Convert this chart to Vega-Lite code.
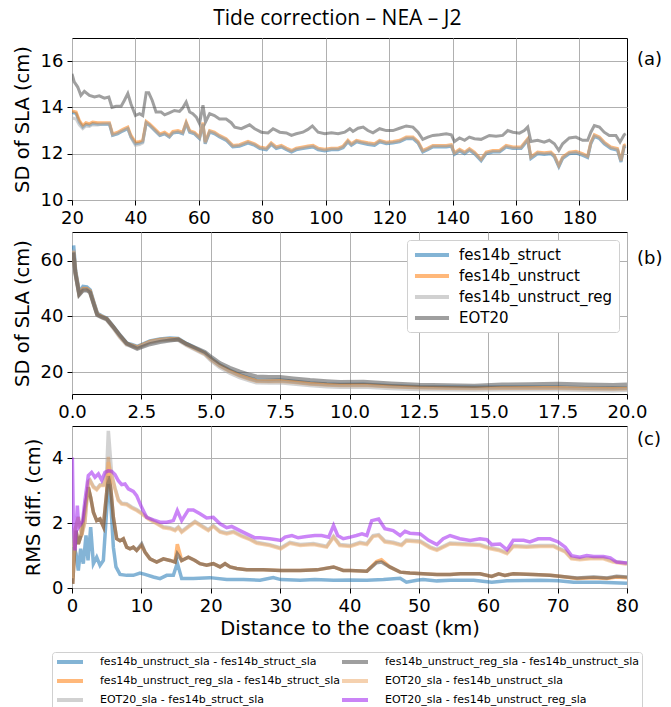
{
"$schema":"https://vega.github.io/schema/vega-lite/v6.json",
"padding":{"left":11,"top":7,"right":5,"bottom":0},
"title":{"text":"Tide correction – NEA – J2","font":"Open Sans","fontSize":21,"fontWeight":"normal","color":"#000","anchor":"middle","offset":9},
"bounds":"flush",
"spacing":32,
"config":{
 "view":{"stroke":"#000","strokeWidth":1},
 "axis":{"labelFont":"DejaVu Sans","labelFontSize":18,"labelColor":"#000","tickColor":"#000","tickSize":5,"labelPadding":4,"domain":false,"gridColor":"#b0b0b0","gridWidth":1,"titleFont":"DejaVu Sans","titleFontSize":19.5,"titleFontWeight":"normal","titleColor":"#000","labelFlush":false}
},
"resolve":{"scale":{"color":"independent"},"legend":{"color":"independent"}},
"datasets":{
"A":[
{"s":"fes14b_struct","x":20,"y":13.78},{"s":"fes14b_struct","x":21.3,"y":13.73},{"s":"fes14b_struct","x":22.3,"y":13.37},{"s":"fes14b_struct","x":23.4,"y":13.15},{"s":"fes14b_struct","x":24.4,"y":13.27},{"s":"fes14b_struct","x":25.5,"y":13.23},{"s":"fes14b_struct","x":26.5,"y":13.3},{"s":"fes14b_struct","x":28.1,"y":13.27},{"s":"fes14b_struct","x":29.7,"y":13.27},{"s":"fes14b_struct","x":31.8,"y":13.27},{"s":"fes14b_struct","x":32.8,"y":12.79},{"s":"fes14b_struct","x":34.4,"y":12.86},{"s":"fes14b_struct","x":36,"y":12.98},{"s":"fes14b_struct","x":37.6,"y":13.08},{"s":"fes14b_struct","x":38.6,"y":12.72},{"s":"fes14b_struct","x":40,"y":12.43},{"s":"fes14b_struct","x":41.3,"y":12.46},{"s":"fes14b_struct","x":42.3,"y":12.51},{"s":"fes14b_struct","x":43.4,"y":13.33},{"s":"fes14b_struct","x":44.4,"y":13.23},{"s":"fes14b_struct","x":46.1,"y":13.01},{"s":"fes14b_struct","x":47.7,"y":12.79},{"s":"fes14b_struct","x":49.2,"y":12.86},{"s":"fes14b_struct","x":50.7,"y":12.72},{"s":"fes14b_struct","x":51.8,"y":12.89},{"s":"fes14b_struct","x":53.4,"y":12.93},{"s":"fes14b_struct","x":54.9,"y":12.86},{"s":"fes14b_struct","x":56,"y":13.3},{"s":"fes14b_struct","x":57.1,"y":12.93},{"s":"fes14b_struct","x":58.6,"y":12.86},{"s":"fes14b_struct","x":60.2,"y":12.65},{"s":"fes14b_struct","x":61.3,"y":13.27},{"s":"fes14b_struct","x":62,"y":12.43},{"s":"fes14b_struct","x":63.4,"y":12.93},{"s":"fes14b_struct","x":64.9,"y":12.86},{"s":"fes14b_struct","x":66.5,"y":12.72},{"s":"fes14b_struct","x":68.6,"y":12.58},{"s":"fes14b_struct","x":70.7,"y":12.29},{"s":"fes14b_struct","x":72.8,"y":12.32},{"s":"fes14b_struct","x":75.5,"y":12.46},{"s":"fes14b_struct","x":77.6,"y":12.36},{"s":"fes14b_struct","x":79.2,"y":12.22},{"s":"fes14b_struct","x":81.3,"y":12.17},{"s":"fes14b_struct","x":82.8,"y":12.4},{"s":"fes14b_struct","x":84.4,"y":12.22},{"s":"fes14b_struct","x":86,"y":12.29},{"s":"fes14b_struct","x":87.6,"y":12.17},{"s":"fes14b_struct","x":89.2,"y":12.07},{"s":"fes14b_struct","x":90.7,"y":12.17},{"s":"fes14b_struct","x":92.8,"y":12.22},{"s":"fes14b_struct","x":94.4,"y":12.26},{"s":"fes14b_struct","x":96,"y":12.29},{"s":"fes14b_struct","x":97.6,"y":12.17},{"s":"fes14b_struct","x":99.7,"y":12.12},{"s":"fes14b_struct","x":101.8,"y":12.17},{"s":"fes14b_struct","x":103.9,"y":12.17},{"s":"fes14b_struct","x":105.5,"y":12.26},{"s":"fes14b_struct","x":107,"y":12.51},{"s":"fes14b_struct","x":108.1,"y":12.36},{"s":"fes14b_struct","x":109.7,"y":12.51},{"s":"fes14b_struct","x":111.2,"y":12.46},{"s":"fes14b_struct","x":113.3,"y":12.4},{"s":"fes14b_struct","x":115.4,"y":12.36},{"s":"fes14b_struct","x":117,"y":12.51},{"s":"fes14b_struct","x":119.1,"y":12.43},{"s":"fes14b_struct","x":121.2,"y":12.46},{"s":"fes14b_struct","x":123.3,"y":12.51},{"s":"fes14b_struct","x":125.4,"y":12.65},{"s":"fes14b_struct","x":127.5,"y":12.65},{"s":"fes14b_struct","x":129.1,"y":12.46},{"s":"fes14b_struct","x":130.6,"y":12.07},{"s":"fes14b_struct","x":132.2,"y":12.17},{"s":"fes14b_struct","x":133.8,"y":12.29},{"s":"fes14b_struct","x":135.9,"y":12.29},{"s":"fes14b_struct","x":138,"y":12.29},{"s":"fes14b_struct","x":139.6,"y":12.32},{"s":"fes14b_struct","x":140.6,"y":11.97},{"s":"fes14b_struct","x":142.2,"y":12.12},{"s":"fes14b_struct","x":143.8,"y":12.0},{"s":"fes14b_struct","x":145.3,"y":12.15},{"s":"fes14b_struct","x":146.9,"y":12.0},{"s":"fes14b_struct","x":149,"y":11.69},{"s":"fes14b_struct","x":150.6,"y":12.0},{"s":"fes14b_struct","x":152.7,"y":12.07},{"s":"fes14b_struct","x":154.8,"y":12.07},{"s":"fes14b_struct","x":156.9,"y":12.29},{"s":"fes14b_struct","x":159,"y":12.22},{"s":"fes14b_struct","x":161.6,"y":12.22},{"s":"fes14b_struct","x":163.7,"y":12.58},{"s":"fes14b_struct","x":164.7,"y":11.79},{"s":"fes14b_struct","x":166.8,"y":12.0},{"s":"fes14b_struct","x":168.9,"y":11.97},{"s":"fes14b_struct","x":171,"y":12.0},{"s":"fes14b_struct","x":172.1,"y":11.86},{"s":"fes14b_struct","x":173.5,"y":11.43},{"s":"fes14b_struct","x":174.7,"y":11.79},{"s":"fes14b_struct","x":176.8,"y":12.0},{"s":"fes14b_struct","x":178.9,"y":12.03},{"s":"fes14b_struct","x":181,"y":11.93},{"s":"fes14b_struct","x":182.6,"y":11.83},{"s":"fes14b_struct","x":183.6,"y":12.43},{"s":"fes14b_struct","x":184.7,"y":12.75},{"s":"fes14b_struct","x":186.3,"y":12.65},{"s":"fes14b_struct","x":187.8,"y":12.43},{"s":"fes14b_struct","x":189.9,"y":12.22},{"s":"fes14b_struct","x":192,"y":12.15},{"s":"fes14b_struct","x":193.1,"y":11.64},{"s":"fes14b_struct","x":194.1,"y":12.29},{"s":"fes14b_struct","x":194.6,"y":12.32},
{"s":"fes14b_unstruct","x":20,"y":13.85},{"s":"fes14b_unstruct","x":21.3,"y":13.8},{"s":"fes14b_unstruct","x":22.3,"y":13.44},{"s":"fes14b_unstruct","x":23.4,"y":13.22},{"s":"fes14b_unstruct","x":24.4,"y":13.34},{"s":"fes14b_unstruct","x":25.5,"y":13.3},{"s":"fes14b_unstruct","x":26.5,"y":13.37},{"s":"fes14b_unstruct","x":28.1,"y":13.34},{"s":"fes14b_unstruct","x":29.7,"y":13.34},{"s":"fes14b_unstruct","x":31.8,"y":13.34},{"s":"fes14b_unstruct","x":32.8,"y":12.86},{"s":"fes14b_unstruct","x":34.4,"y":12.93},{"s":"fes14b_unstruct","x":36,"y":13.05},{"s":"fes14b_unstruct","x":37.6,"y":13.15},{"s":"fes14b_unstruct","x":38.6,"y":12.79},{"s":"fes14b_unstruct","x":40,"y":12.5},{"s":"fes14b_unstruct","x":41.3,"y":12.53},{"s":"fes14b_unstruct","x":42.3,"y":12.58},{"s":"fes14b_unstruct","x":43.4,"y":13.4},{"s":"fes14b_unstruct","x":44.4,"y":13.3},{"s":"fes14b_unstruct","x":46.1,"y":13.08},{"s":"fes14b_unstruct","x":47.7,"y":12.86},{"s":"fes14b_unstruct","x":49.2,"y":12.93},{"s":"fes14b_unstruct","x":50.7,"y":12.79},{"s":"fes14b_unstruct","x":51.8,"y":12.96},{"s":"fes14b_unstruct","x":53.4,"y":13.0},{"s":"fes14b_unstruct","x":54.9,"y":12.93},{"s":"fes14b_unstruct","x":56,"y":13.37},{"s":"fes14b_unstruct","x":57.1,"y":13.0},{"s":"fes14b_unstruct","x":58.6,"y":12.93},{"s":"fes14b_unstruct","x":60.2,"y":12.72},{"s":"fes14b_unstruct","x":61.3,"y":13.34},{"s":"fes14b_unstruct","x":62,"y":12.5},{"s":"fes14b_unstruct","x":63.4,"y":13.0},{"s":"fes14b_unstruct","x":64.9,"y":12.93},{"s":"fes14b_unstruct","x":66.5,"y":12.79},{"s":"fes14b_unstruct","x":68.6,"y":12.65},{"s":"fes14b_unstruct","x":70.7,"y":12.36},{"s":"fes14b_unstruct","x":72.8,"y":12.39},{"s":"fes14b_unstruct","x":75.5,"y":12.53},{"s":"fes14b_unstruct","x":77.6,"y":12.43},{"s":"fes14b_unstruct","x":79.2,"y":12.29},{"s":"fes14b_unstruct","x":81.3,"y":12.24},{"s":"fes14b_unstruct","x":82.8,"y":12.47},{"s":"fes14b_unstruct","x":84.4,"y":12.29},{"s":"fes14b_unstruct","x":86,"y":12.36},{"s":"fes14b_unstruct","x":87.6,"y":12.24},{"s":"fes14b_unstruct","x":89.2,"y":12.14},{"s":"fes14b_unstruct","x":90.7,"y":12.24},{"s":"fes14b_unstruct","x":92.8,"y":12.29},{"s":"fes14b_unstruct","x":94.4,"y":12.33},{"s":"fes14b_unstruct","x":96,"y":12.36},{"s":"fes14b_unstruct","x":97.6,"y":12.24},{"s":"fes14b_unstruct","x":99.7,"y":12.19},{"s":"fes14b_unstruct","x":101.8,"y":12.24},{"s":"fes14b_unstruct","x":103.9,"y":12.24},{"s":"fes14b_unstruct","x":105.5,"y":12.33},{"s":"fes14b_unstruct","x":107,"y":12.58},{"s":"fes14b_unstruct","x":108.1,"y":12.43},{"s":"fes14b_unstruct","x":109.7,"y":12.58},{"s":"fes14b_unstruct","x":111.2,"y":12.53},{"s":"fes14b_unstruct","x":113.3,"y":12.47},{"s":"fes14b_unstruct","x":115.4,"y":12.43},{"s":"fes14b_unstruct","x":117,"y":12.58},{"s":"fes14b_unstruct","x":119.1,"y":12.5},{"s":"fes14b_unstruct","x":121.2,"y":12.53},{"s":"fes14b_unstruct","x":123.3,"y":12.58},{"s":"fes14b_unstruct","x":125.4,"y":12.72},{"s":"fes14b_unstruct","x":127.5,"y":12.72},{"s":"fes14b_unstruct","x":129.1,"y":12.53},{"s":"fes14b_unstruct","x":130.6,"y":12.14},{"s":"fes14b_unstruct","x":132.2,"y":12.24},{"s":"fes14b_unstruct","x":133.8,"y":12.36},{"s":"fes14b_unstruct","x":135.9,"y":12.36},{"s":"fes14b_unstruct","x":138,"y":12.36},{"s":"fes14b_unstruct","x":139.6,"y":12.39},{"s":"fes14b_unstruct","x":140.6,"y":12.04},{"s":"fes14b_unstruct","x":142.2,"y":12.19},{"s":"fes14b_unstruct","x":143.8,"y":12.07},{"s":"fes14b_unstruct","x":145.3,"y":12.22},{"s":"fes14b_unstruct","x":146.9,"y":12.07},{"s":"fes14b_unstruct","x":149,"y":11.76},{"s":"fes14b_unstruct","x":150.6,"y":12.07},{"s":"fes14b_unstruct","x":152.7,"y":12.14},{"s":"fes14b_unstruct","x":154.8,"y":12.14},{"s":"fes14b_unstruct","x":156.9,"y":12.36},{"s":"fes14b_unstruct","x":159,"y":12.29},{"s":"fes14b_unstruct","x":161.6,"y":12.29},{"s":"fes14b_unstruct","x":163.7,"y":12.65},{"s":"fes14b_unstruct","x":164.7,"y":11.86},{"s":"fes14b_unstruct","x":166.8,"y":12.07},{"s":"fes14b_unstruct","x":168.9,"y":12.04},{"s":"fes14b_unstruct","x":171,"y":12.07},{"s":"fes14b_unstruct","x":172.1,"y":11.93},{"s":"fes14b_unstruct","x":173.5,"y":11.5},{"s":"fes14b_unstruct","x":174.7,"y":11.86},{"s":"fes14b_unstruct","x":176.8,"y":12.07},{"s":"fes14b_unstruct","x":178.9,"y":12.1},{"s":"fes14b_unstruct","x":181,"y":12.0},{"s":"fes14b_unstruct","x":182.6,"y":11.9},{"s":"fes14b_unstruct","x":183.6,"y":12.5},{"s":"fes14b_unstruct","x":184.7,"y":12.82},{"s":"fes14b_unstruct","x":186.3,"y":12.72},{"s":"fes14b_unstruct","x":187.8,"y":12.5},{"s":"fes14b_unstruct","x":189.9,"y":12.29},{"s":"fes14b_unstruct","x":192,"y":12.22},{"s":"fes14b_unstruct","x":193.1,"y":11.71},{"s":"fes14b_unstruct","x":194.1,"y":12.36},{"s":"fes14b_unstruct","x":194.6,"y":12.39},
{"s":"fes14b_unstruct_reg","x":20,"y":13.55},{"s":"fes14b_unstruct_reg","x":21.3,"y":13.5},{"s":"fes14b_unstruct_reg","x":22.3,"y":13.25},{"s":"fes14b_unstruct_reg","x":23.4,"y":13.08},{"s":"fes14b_unstruct_reg","x":24.4,"y":13.2},{"s":"fes14b_unstruct_reg","x":25.5,"y":13.18},{"s":"fes14b_unstruct_reg","x":26.5,"y":13.25},{"s":"fes14b_unstruct_reg","x":28.1,"y":13.24},{"s":"fes14b_unstruct_reg","x":29.7,"y":13.28},{"s":"fes14b_unstruct_reg","x":31.8,"y":13.3},{"s":"fes14b_unstruct_reg","x":32.8,"y":12.8},{"s":"fes14b_unstruct_reg","x":34.4,"y":12.88},{"s":"fes14b_unstruct_reg","x":36,"y":13.0},{"s":"fes14b_unstruct_reg","x":37.6,"y":13.1},{"s":"fes14b_unstruct_reg","x":38.6,"y":12.7},{"s":"fes14b_unstruct_reg","x":40,"y":12.36},{"s":"fes14b_unstruct_reg","x":41.3,"y":12.4},{"s":"fes14b_unstruct_reg","x":42.3,"y":12.46},{"s":"fes14b_unstruct_reg","x":43.4,"y":13.34},{"s":"fes14b_unstruct_reg","x":44.4,"y":13.24},{"s":"fes14b_unstruct_reg","x":46.1,"y":13.0},{"s":"fes14b_unstruct_reg","x":47.7,"y":12.8},{"s":"fes14b_unstruct_reg","x":49.2,"y":12.86},{"s":"fes14b_unstruct_reg","x":50.7,"y":12.72},{"s":"fes14b_unstruct_reg","x":51.8,"y":12.9},{"s":"fes14b_unstruct_reg","x":53.4,"y":12.95},{"s":"fes14b_unstruct_reg","x":54.9,"y":12.88},{"s":"fes14b_unstruct_reg","x":56,"y":13.32},{"s":"fes14b_unstruct_reg","x":57.1,"y":12.95},{"s":"fes14b_unstruct_reg","x":58.6,"y":12.88},{"s":"fes14b_unstruct_reg","x":60.2,"y":12.66},{"s":"fes14b_unstruct_reg","x":61.3,"y":13.3},{"s":"fes14b_unstruct_reg","x":62,"y":12.44},{"s":"fes14b_unstruct_reg","x":63.4,"y":12.96},{"s":"fes14b_unstruct_reg","x":64.9,"y":12.89},{"s":"fes14b_unstruct_reg","x":66.5,"y":12.75},{"s":"fes14b_unstruct_reg","x":68.6,"y":12.61},{"s":"fes14b_unstruct_reg","x":70.7,"y":12.32},{"s":"fes14b_unstruct_reg","x":72.8,"y":12.35},{"s":"fes14b_unstruct_reg","x":75.5,"y":12.49},{"s":"fes14b_unstruct_reg","x":77.6,"y":12.39},{"s":"fes14b_unstruct_reg","x":79.2,"y":12.25},{"s":"fes14b_unstruct_reg","x":81.3,"y":12.2},{"s":"fes14b_unstruct_reg","x":82.8,"y":12.43},{"s":"fes14b_unstruct_reg","x":84.4,"y":12.25},{"s":"fes14b_unstruct_reg","x":86,"y":12.32},{"s":"fes14b_unstruct_reg","x":87.6,"y":12.2},{"s":"fes14b_unstruct_reg","x":89.2,"y":12.1},{"s":"fes14b_unstruct_reg","x":90.7,"y":12.2},{"s":"fes14b_unstruct_reg","x":92.8,"y":12.25},{"s":"fes14b_unstruct_reg","x":94.4,"y":12.29},{"s":"fes14b_unstruct_reg","x":96,"y":12.32},{"s":"fes14b_unstruct_reg","x":97.6,"y":12.2},{"s":"fes14b_unstruct_reg","x":99.7,"y":12.15},{"s":"fes14b_unstruct_reg","x":101.8,"y":12.2},{"s":"fes14b_unstruct_reg","x":103.9,"y":12.2},{"s":"fes14b_unstruct_reg","x":105.5,"y":12.29},{"s":"fes14b_unstruct_reg","x":107,"y":12.54},{"s":"fes14b_unstruct_reg","x":108.1,"y":12.39},{"s":"fes14b_unstruct_reg","x":109.7,"y":12.54},{"s":"fes14b_unstruct_reg","x":111.2,"y":12.49},{"s":"fes14b_unstruct_reg","x":113.3,"y":12.43},{"s":"fes14b_unstruct_reg","x":115.4,"y":12.39},{"s":"fes14b_unstruct_reg","x":117,"y":12.54},{"s":"fes14b_unstruct_reg","x":119.1,"y":12.46},{"s":"fes14b_unstruct_reg","x":121.2,"y":12.49},{"s":"fes14b_unstruct_reg","x":123.3,"y":12.54},{"s":"fes14b_unstruct_reg","x":125.4,"y":12.68},{"s":"fes14b_unstruct_reg","x":127.5,"y":12.68},{"s":"fes14b_unstruct_reg","x":129.1,"y":12.49},{"s":"fes14b_unstruct_reg","x":130.6,"y":12.1},{"s":"fes14b_unstruct_reg","x":132.2,"y":12.2},{"s":"fes14b_unstruct_reg","x":133.8,"y":12.32},{"s":"fes14b_unstruct_reg","x":135.9,"y":12.32},{"s":"fes14b_unstruct_reg","x":138,"y":12.32},{"s":"fes14b_unstruct_reg","x":139.6,"y":12.35},{"s":"fes14b_unstruct_reg","x":140.6,"y":12.0},{"s":"fes14b_unstruct_reg","x":142.2,"y":12.15},{"s":"fes14b_unstruct_reg","x":143.8,"y":12.03},{"s":"fes14b_unstruct_reg","x":145.3,"y":12.18},{"s":"fes14b_unstruct_reg","x":146.9,"y":12.03},{"s":"fes14b_unstruct_reg","x":149,"y":11.72},{"s":"fes14b_unstruct_reg","x":150.6,"y":12.03},{"s":"fes14b_unstruct_reg","x":152.7,"y":12.1},{"s":"fes14b_unstruct_reg","x":154.8,"y":12.1},{"s":"fes14b_unstruct_reg","x":156.9,"y":12.32},{"s":"fes14b_unstruct_reg","x":159,"y":12.25},{"s":"fes14b_unstruct_reg","x":161.6,"y":12.25},{"s":"fes14b_unstruct_reg","x":163.7,"y":12.61},{"s":"fes14b_unstruct_reg","x":164.7,"y":11.82},{"s":"fes14b_unstruct_reg","x":166.8,"y":12.03},{"s":"fes14b_unstruct_reg","x":168.9,"y":12.0},{"s":"fes14b_unstruct_reg","x":171,"y":12.03},{"s":"fes14b_unstruct_reg","x":172.1,"y":11.89},{"s":"fes14b_unstruct_reg","x":173.5,"y":11.46},{"s":"fes14b_unstruct_reg","x":174.7,"y":11.82},{"s":"fes14b_unstruct_reg","x":176.8,"y":12.03},{"s":"fes14b_unstruct_reg","x":178.9,"y":12.06},{"s":"fes14b_unstruct_reg","x":181,"y":11.96},{"s":"fes14b_unstruct_reg","x":182.6,"y":11.86},{"s":"fes14b_unstruct_reg","x":183.6,"y":12.46},{"s":"fes14b_unstruct_reg","x":184.7,"y":12.78},{"s":"fes14b_unstruct_reg","x":186.3,"y":12.68},{"s":"fes14b_unstruct_reg","x":187.8,"y":12.46},{"s":"fes14b_unstruct_reg","x":189.9,"y":12.25},{"s":"fes14b_unstruct_reg","x":192,"y":12.18},{"s":"fes14b_unstruct_reg","x":193.1,"y":11.67},{"s":"fes14b_unstruct_reg","x":194.1,"y":12.32},{"s":"fes14b_unstruct_reg","x":194.6,"y":12.35},
{"s":"EOT20","x":20,"y":15.45},{"s":"EOT20","x":20.7,"y":15.1},{"s":"EOT20","x":21.8,"y":14.88},{"s":"EOT20","x":22.8,"y":14.52},{"s":"EOT20","x":23.9,"y":14.7},{"s":"EOT20","x":25.5,"y":14.52},{"s":"EOT20","x":27.1,"y":14.45},{"s":"EOT20","x":28.6,"y":14.5},{"s":"EOT20","x":30.2,"y":14.4},{"s":"EOT20","x":31.6,"y":14.45},{"s":"EOT20","x":32.6,"y":14.0},{"s":"EOT20","x":33.9,"y":14.05},{"s":"EOT20","x":35.5,"y":14.05},{"s":"EOT20","x":36.5,"y":14.3},{"s":"EOT20","x":37.6,"y":14.6},{"s":"EOT20","x":38.6,"y":14.15},{"s":"EOT20","x":40,"y":13.65},{"s":"EOT20","x":41.3,"y":13.73},{"s":"EOT20","x":42.3,"y":13.65},{"s":"EOT20","x":43.4,"y":14.63},{"s":"EOT20","x":44.2,"y":14.63},{"s":"EOT20","x":45.3,"y":14.3},{"s":"EOT20","x":46.5,"y":13.8},{"s":"EOT20","x":48.1,"y":13.8},{"s":"EOT20","x":49.2,"y":13.68},{"s":"EOT20","x":50.7,"y":13.77},{"s":"EOT20","x":52.3,"y":13.87},{"s":"EOT20","x":53.9,"y":13.83},{"s":"EOT20","x":54.9,"y":13.97},{"s":"EOT20","x":56,"y":14.23},{"s":"EOT20","x":57.1,"y":13.8},{"s":"EOT20","x":58.1,"y":13.73},{"s":"EOT20","x":59.2,"y":13.58},{"s":"EOT20","x":60.2,"y":13.3},{"s":"EOT20","x":61.3,"y":14.09},{"s":"EOT20","x":62.1,"y":13.37},{"s":"EOT20","x":63.4,"y":13.73},{"s":"EOT20","x":64.9,"y":13.65},{"s":"EOT20","x":66.5,"y":13.5},{"s":"EOT20","x":68.6,"y":13.5},{"s":"EOT20","x":70.2,"y":13.34},{"s":"EOT20","x":71.3,"y":13.15},{"s":"EOT20","x":73.4,"y":13.08},{"s":"EOT20","x":76,"y":13.25},{"s":"EOT20","x":77.6,"y":13.08},{"s":"EOT20","x":79.7,"y":12.93},{"s":"EOT20","x":81.8,"y":12.9},{"s":"EOT20","x":83.4,"y":13.08},{"s":"EOT20","x":85.5,"y":12.93},{"s":"EOT20","x":87.6,"y":12.9},{"s":"EOT20","x":89.2,"y":12.79},{"s":"EOT20","x":90.7,"y":12.86},{"s":"EOT20","x":92.8,"y":12.93},{"s":"EOT20","x":94.4,"y":13.05},{"s":"EOT20","x":95.8,"y":13.2},{"s":"EOT20","x":97.6,"y":12.93},{"s":"EOT20","x":99.7,"y":12.86},{"s":"EOT20","x":101.8,"y":12.9},{"s":"EOT20","x":103.9,"y":12.86},{"s":"EOT20","x":106,"y":12.93},{"s":"EOT20","x":107.6,"y":13.08},{"s":"EOT20","x":108.6,"y":12.96},{"s":"EOT20","x":110.2,"y":13.1},{"s":"EOT20","x":111.8,"y":13.15},{"s":"EOT20","x":113.3,"y":13.0},{"s":"EOT20","x":114.9,"y":12.9},{"s":"EOT20","x":117,"y":13.08},{"s":"EOT20","x":119.1,"y":13.0},{"s":"EOT20","x":121.2,"y":13.0},{"s":"EOT20","x":123.3,"y":13.1},{"s":"EOT20","x":125.4,"y":13.2},{"s":"EOT20","x":127.5,"y":13.15},{"s":"EOT20","x":129.1,"y":12.93},{"s":"EOT20","x":130.6,"y":12.62},{"s":"EOT20","x":132.2,"y":12.72},{"s":"EOT20","x":133.8,"y":12.79},{"s":"EOT20","x":135.9,"y":12.82},{"s":"EOT20","x":138,"y":12.86},{"s":"EOT20","x":139.6,"y":12.82},{"s":"EOT20","x":140.6,"y":12.53},{"s":"EOT20","x":142.2,"y":12.68},{"s":"EOT20","x":143.8,"y":12.58},{"s":"EOT20","x":145.3,"y":12.72},{"s":"EOT20","x":146.9,"y":12.65},{"s":"EOT20","x":149,"y":12.62},{"s":"EOT20","x":151.6,"y":12.79},{"s":"EOT20","x":153.7,"y":12.76},{"s":"EOT20","x":155.8,"y":12.79},{"s":"EOT20","x":157.4,"y":13.0},{"s":"EOT20","x":159,"y":12.93},{"s":"EOT20","x":161.1,"y":12.89},{"s":"EOT20","x":162.6,"y":13.0},{"s":"EOT20","x":163.7,"y":13.15},{"s":"EOT20","x":164.7,"y":12.53},{"s":"EOT20","x":166.8,"y":12.58},{"s":"EOT20","x":168.9,"y":12.5},{"s":"EOT20","x":170.5,"y":12.58},{"s":"EOT20","x":172.1,"y":12.43},{"s":"EOT20","x":173.5,"y":12.14},{"s":"EOT20","x":174.7,"y":12.43},{"s":"EOT20","x":176.8,"y":12.68},{"s":"EOT20","x":178.9,"y":12.72},{"s":"EOT20","x":181,"y":12.58},{"s":"EOT20","x":182.6,"y":12.58},{"s":"EOT20","x":183.6,"y":12.93},{"s":"EOT20","x":184.7,"y":13.22},{"s":"EOT20","x":186.3,"y":13.15},{"s":"EOT20","x":187.8,"y":12.93},{"s":"EOT20","x":189.4,"y":12.79},{"s":"EOT20","x":191.5,"y":12.79},{"s":"EOT20","x":192.8,"y":12.5},{"s":"EOT20","x":194.1,"y":12.82},{"s":"EOT20","x":194.6,"y":12.86}
],
"B":[
{"s":"fes14b_struct","x":0.05,"y":65.5},{"s":"fes14b_struct","x":0.12,"y":56.5},{"s":"fes14b_struct","x":0.26,"y":48.4},{"s":"fes14b_struct","x":0.4,"y":50.7},{"s":"fes14b_struct","x":0.53,"y":50.5},{"s":"fes14b_struct","x":0.65,"y":49.4},{"s":"fes14b_struct","x":0.77,"y":45.4},{"s":"fes14b_struct","x":0.91,"y":41.0},{"s":"fes14b_struct","x":1.07,"y":40.1},{"s":"fes14b_struct","x":1.25,"y":39.3},{"s":"fes14b_struct","x":1.49,"y":36.3},{"s":"fes14b_struct","x":1.73,"y":33.0},{"s":"fes14b_struct","x":1.97,"y":30.3},{"s":"fes14b_struct","x":2.15,"y":29.8},{"s":"fes14b_struct","x":2.35,"y":29.1},{"s":"fes14b_struct","x":2.51,"y":29.8},{"s":"fes14b_struct","x":2.81,"y":31.1},{"s":"fes14b_struct","x":3.17,"y":31.8},{"s":"fes14b_struct","x":3.53,"y":32.1},{"s":"fes14b_struct","x":3.83,"y":32.0},{"s":"fes14b_struct","x":4.13,"y":30.1},{"s":"fes14b_struct","x":4.43,"y":28.6},{"s":"fes14b_struct","x":4.79,"y":26.8},{"s":"fes14b_struct","x":5.03,"y":24.6},{"s":"fes14b_struct","x":5.33,"y":22.4},{"s":"fes14b_struct","x":5.69,"y":20.5},{"s":"fes14b_struct","x":6.05,"y":18.9},{"s":"fes14b_struct","x":6.41,"y":17.7},{"s":"fes14b_struct","x":6.65,"y":17.0},{"s":"fes14b_struct","x":7.1,"y":16.9},{"s":"fes14b_struct","x":7.5,"y":17.0},{"s":"fes14b_struct","x":7.98,"y":16.6},{"s":"fes14b_struct","x":8.58,"y":16.0},{"s":"fes14b_struct","x":9.18,"y":15.6},{"s":"fes14b_struct","x":9.66,"y":15.4},{"s":"fes14b_struct","x":10.5,"y":15.5},{"s":"fes14b_struct","x":11.5,"y":15.0},{"s":"fes14b_struct","x":12.5,"y":14.6},{"s":"fes14b_struct","x":13.5,"y":14.5},{"s":"fes14b_struct","x":14.5,"y":14.4},{"s":"fes14b_struct","x":15.5,"y":14.5},{"s":"fes14b_struct","x":16.5,"y":14.5},{"s":"fes14b_struct","x":17.5,"y":14.5},{"s":"fes14b_struct","x":18.5,"y":14.3},{"s":"fes14b_struct","x":19.5,"y":14.2},{"s":"fes14b_struct","x":20,"y":14.3},
{"s":"fes14b_unstruct","x":0.05,"y":63.5},{"s":"fes14b_unstruct","x":0.12,"y":56.0},{"s":"fes14b_unstruct","x":0.26,"y":48.1},{"s":"fes14b_unstruct","x":0.4,"y":49.9},{"s":"fes14b_unstruct","x":0.53,"y":49.9},{"s":"fes14b_unstruct","x":0.65,"y":49.0},{"s":"fes14b_unstruct","x":0.77,"y":45.1},{"s":"fes14b_unstruct","x":0.91,"y":40.7},{"s":"fes14b_unstruct","x":1.07,"y":39.9},{"s":"fes14b_unstruct","x":1.25,"y":39.1},{"s":"fes14b_unstruct","x":1.49,"y":36.1},{"s":"fes14b_unstruct","x":1.73,"y":32.8},{"s":"fes14b_unstruct","x":1.97,"y":30.1},{"s":"fes14b_unstruct","x":2.15,"y":29.6},{"s":"fes14b_unstruct","x":2.35,"y":28.9},{"s":"fes14b_unstruct","x":2.51,"y":29.6},{"s":"fes14b_unstruct","x":2.81,"y":30.9},{"s":"fes14b_unstruct","x":3.17,"y":31.6},{"s":"fes14b_unstruct","x":3.53,"y":31.9},{"s":"fes14b_unstruct","x":3.83,"y":31.8},{"s":"fes14b_unstruct","x":4.13,"y":29.9},{"s":"fes14b_unstruct","x":4.43,"y":28.4},{"s":"fes14b_unstruct","x":4.79,"y":26.6},{"s":"fes14b_unstruct","x":5.03,"y":24.4},{"s":"fes14b_unstruct","x":5.33,"y":22.2},{"s":"fes14b_unstruct","x":5.69,"y":20.3},{"s":"fes14b_unstruct","x":6.05,"y":18.7},{"s":"fes14b_unstruct","x":6.41,"y":17.5},{"s":"fes14b_unstruct","x":6.65,"y":16.8},{"s":"fes14b_unstruct","x":7.1,"y":16.7},{"s":"fes14b_unstruct","x":7.5,"y":16.8},{"s":"fes14b_unstruct","x":7.98,"y":16.4},{"s":"fes14b_unstruct","x":8.58,"y":15.8},{"s":"fes14b_unstruct","x":9.18,"y":15.4},{"s":"fes14b_unstruct","x":9.66,"y":15.2},{"s":"fes14b_unstruct","x":10.5,"y":15.3},{"s":"fes14b_unstruct","x":11.5,"y":14.8},{"s":"fes14b_unstruct","x":12.5,"y":14.4},{"s":"fes14b_unstruct","x":13.5,"y":14.3},{"s":"fes14b_unstruct","x":14.5,"y":14.2},{"s":"fes14b_unstruct","x":15.5,"y":14.3},{"s":"fes14b_unstruct","x":16.5,"y":14.3},{"s":"fes14b_unstruct","x":17.5,"y":14.3},{"s":"fes14b_unstruct","x":18.5,"y":14.1},{"s":"fes14b_unstruct","x":19.5,"y":14.0},{"s":"fes14b_unstruct","x":20,"y":14.1},
{"s":"fes14b_unstruct_reg","x":0.05,"y":64.0},{"s":"fes14b_unstruct_reg","x":0.12,"y":55.6},{"s":"fes14b_unstruct_reg","x":0.26,"y":47.8},{"s":"fes14b_unstruct_reg","x":0.4,"y":49.5},{"s":"fes14b_unstruct_reg","x":0.53,"y":49.5},{"s":"fes14b_unstruct_reg","x":0.65,"y":48.6},{"s":"fes14b_unstruct_reg","x":0.77,"y":44.8},{"s":"fes14b_unstruct_reg","x":0.91,"y":40.4},{"s":"fes14b_unstruct_reg","x":1.07,"y":39.6},{"s":"fes14b_unstruct_reg","x":1.25,"y":38.8},{"s":"fes14b_unstruct_reg","x":1.49,"y":35.8},{"s":"fes14b_unstruct_reg","x":1.73,"y":32.5},{"s":"fes14b_unstruct_reg","x":1.97,"y":29.8},{"s":"fes14b_unstruct_reg","x":2.15,"y":29.3},{"s":"fes14b_unstruct_reg","x":2.35,"y":28.6},{"s":"fes14b_unstruct_reg","x":2.51,"y":29.3},{"s":"fes14b_unstruct_reg","x":2.81,"y":30.6},{"s":"fes14b_unstruct_reg","x":3.17,"y":31.3},{"s":"fes14b_unstruct_reg","x":3.53,"y":31.6},{"s":"fes14b_unstruct_reg","x":3.83,"y":31.5},{"s":"fes14b_unstruct_reg","x":4.13,"y":29.6},{"s":"fes14b_unstruct_reg","x":4.43,"y":28.1},{"s":"fes14b_unstruct_reg","x":4.79,"y":26.3},{"s":"fes14b_unstruct_reg","x":5.03,"y":24.0},{"s":"fes14b_unstruct_reg","x":5.33,"y":21.7},{"s":"fes14b_unstruct_reg","x":5.69,"y":19.7},{"s":"fes14b_unstruct_reg","x":6.05,"y":18.1},{"s":"fes14b_unstruct_reg","x":6.41,"y":16.9},{"s":"fes14b_unstruct_reg","x":6.65,"y":16.2},{"s":"fes14b_unstruct_reg","x":7.1,"y":16.1},{"s":"fes14b_unstruct_reg","x":7.5,"y":16.2},{"s":"fes14b_unstruct_reg","x":7.98,"y":15.8},{"s":"fes14b_unstruct_reg","x":8.58,"y":15.2},{"s":"fes14b_unstruct_reg","x":9.18,"y":14.8},{"s":"fes14b_unstruct_reg","x":9.66,"y":14.6},{"s":"fes14b_unstruct_reg","x":10.5,"y":14.7},{"s":"fes14b_unstruct_reg","x":11.5,"y":14.2},{"s":"fes14b_unstruct_reg","x":12.5,"y":13.8},{"s":"fes14b_unstruct_reg","x":13.5,"y":13.7},{"s":"fes14b_unstruct_reg","x":14.5,"y":13.6},{"s":"fes14b_unstruct_reg","x":15.5,"y":13.7},{"s":"fes14b_unstruct_reg","x":16.5,"y":13.7},{"s":"fes14b_unstruct_reg","x":17.5,"y":13.7},{"s":"fes14b_unstruct_reg","x":18.5,"y":13.5},{"s":"fes14b_unstruct_reg","x":19.5,"y":13.4},{"s":"fes14b_unstruct_reg","x":20,"y":13.5},
{"s":"EOT20","x":0.05,"y":63.0},{"s":"EOT20","x":0.12,"y":55.5},{"s":"EOT20","x":0.26,"y":47.8},{"s":"EOT20","x":0.4,"y":49.3},{"s":"EOT20","x":0.53,"y":49.4},{"s":"EOT20","x":0.65,"y":48.6},{"s":"EOT20","x":0.77,"y":44.8},{"s":"EOT20","x":0.91,"y":40.5},{"s":"EOT20","x":1.07,"y":39.7},{"s":"EOT20","x":1.25,"y":39.0},{"s":"EOT20","x":1.49,"y":36.2},{"s":"EOT20","x":1.73,"y":33.2},{"s":"EOT20","x":1.97,"y":30.3},{"s":"EOT20","x":2.15,"y":29.3},{"s":"EOT20","x":2.35,"y":28.3},{"s":"EOT20","x":2.51,"y":28.9},{"s":"EOT20","x":2.81,"y":30.0},{"s":"EOT20","x":3.17,"y":30.8},{"s":"EOT20","x":3.53,"y":31.3},{"s":"EOT20","x":3.83,"y":31.7},{"s":"EOT20","x":4.13,"y":30.1},{"s":"EOT20","x":4.43,"y":28.8},{"s":"EOT20","x":4.79,"y":27.2},{"s":"EOT20","x":5.03,"y":25.3},{"s":"EOT20","x":5.33,"y":23.2},{"s":"EOT20","x":5.69,"y":21.5},{"s":"EOT20","x":6.05,"y":20.1},{"s":"EOT20","x":6.41,"y":19.0},{"s":"EOT20","x":6.65,"y":18.4},{"s":"EOT20","x":7.1,"y":18.2},{"s":"EOT20","x":7.5,"y":18.2},{"s":"EOT20","x":7.98,"y":17.7},{"s":"EOT20","x":8.58,"y":17.1},{"s":"EOT20","x":9.18,"y":16.7},{"s":"EOT20","x":9.66,"y":16.4},{"s":"EOT20","x":10.5,"y":16.5},{"s":"EOT20","x":11.5,"y":15.9},{"s":"EOT20","x":12.5,"y":15.4},{"s":"EOT20","x":13.5,"y":15.2},{"s":"EOT20","x":14.5,"y":15.1},{"s":"EOT20","x":15.5,"y":15.5},{"s":"EOT20","x":16.5,"y":15.6},{"s":"EOT20","x":17.5,"y":15.8},{"s":"EOT20","x":18.5,"y":15.5},{"s":"EOT20","x":19.5,"y":15.3},{"s":"EOT20","x":20,"y":15.5}
],
"C":[
{"s":"fes14b_unstruct_sla - fes14b_struct_sla","x":0.1,"y":0.34},{"s":"fes14b_unstruct_sla - fes14b_struct_sla","x":0.29,"y":1.26},{"s":"fes14b_unstruct_sla - fes14b_struct_sla","x":0.58,"y":1.06},{"s":"fes14b_unstruct_sla - fes14b_struct_sla","x":0.91,"y":0.54},{"s":"fes14b_unstruct_sla - fes14b_struct_sla","x":1.25,"y":1.21},{"s":"fes14b_unstruct_sla - fes14b_struct_sla","x":1.63,"y":0.75},{"s":"fes14b_unstruct_sla - fes14b_struct_sla","x":2.02,"y":1.62},{"s":"fes14b_unstruct_sla - fes14b_struct_sla","x":2.31,"y":0.85},{"s":"fes14b_unstruct_sla - fes14b_struct_sla","x":2.69,"y":1.88},{"s":"fes14b_unstruct_sla - fes14b_struct_sla","x":3.08,"y":0.75},{"s":"fes14b_unstruct_sla - fes14b_struct_sla","x":3.56,"y":0.95},{"s":"fes14b_unstruct_sla - fes14b_struct_sla","x":4.04,"y":0.7},{"s":"fes14b_unstruct_sla - fes14b_struct_sla","x":4.52,"y":0.85},{"s":"fes14b_unstruct_sla - fes14b_struct_sla","x":4.9,"y":2.08},{"s":"fes14b_unstruct_sla - fes14b_struct_sla","x":5.24,"y":3.21},{"s":"fes14b_unstruct_sla - fes14b_struct_sla","x":5.57,"y":2.7},{"s":"fes14b_unstruct_sla - fes14b_struct_sla","x":5.96,"y":1.26},{"s":"fes14b_unstruct_sla - fes14b_struct_sla","x":6.34,"y":0.65},{"s":"fes14b_unstruct_sla - fes14b_struct_sla","x":6.92,"y":0.42},{"s":"fes14b_unstruct_sla - fes14b_struct_sla","x":7.88,"y":0.39},{"s":"fes14b_unstruct_sla - fes14b_struct_sla","x":8.84,"y":0.39},{"s":"fes14b_unstruct_sla - fes14b_struct_sla","x":9.8,"y":0.46},{"s":"fes14b_unstruct_sla - fes14b_struct_sla","x":10.52,"y":0.42},{"s":"fes14b_unstruct_sla - fes14b_struct_sla","x":11.73,"y":0.34},{"s":"fes14b_unstruct_sla - fes14b_struct_sla","x":12.69,"y":0.29},{"s":"fes14b_unstruct_sla - fes14b_struct_sla","x":13.65,"y":0.39},{"s":"fes14b_unstruct_sla - fes14b_struct_sla","x":14.61,"y":0.39},{"s":"fes14b_unstruct_sla - fes14b_struct_sla","x":15.18,"y":0.77},{"s":"fes14b_unstruct_sla - fes14b_struct_sla","x":15.81,"y":0.29},{"s":"fes14b_unstruct_sla - fes14b_struct_sla","x":17.49,"y":0.29},{"s":"fes14b_unstruct_sla - fes14b_struct_sla","x":19.89,"y":0.32},{"s":"fes14b_unstruct_sla - fes14b_struct_sla","x":22.3,"y":0.26},{"s":"fes14b_unstruct_sla - fes14b_struct_sla","x":24.7,"y":0.26},{"s":"fes14b_unstruct_sla - fes14b_struct_sla","x":27.1,"y":0.24},{"s":"fes14b_unstruct_sla - fes14b_struct_sla","x":29.0,"y":0.32},{"s":"fes14b_unstruct_sla - fes14b_struct_sla","x":30.1,"y":0.26},{"s":"fes14b_unstruct_sla - fes14b_struct_sla","x":32.9,"y":0.24},{"s":"fes14b_unstruct_sla - fes14b_struct_sla","x":35,"y":0.26},{"s":"fes14b_unstruct_sla - fes14b_struct_sla","x":37.7,"y":0.24},{"s":"fes14b_unstruct_sla - fes14b_struct_sla","x":40,"y":0.25},{"s":"fes14b_unstruct_sla - fes14b_struct_sla","x":42.5,"y":0.24},{"s":"fes14b_unstruct_sla - fes14b_struct_sla","x":44.9,"y":0.26},{"s":"fes14b_unstruct_sla - fes14b_struct_sla","x":47.3,"y":0.3},{"s":"fes14b_unstruct_sla - fes14b_struct_sla","x":48.2,"y":0.18},{"s":"fes14b_unstruct_sla - fes14b_struct_sla","x":49.7,"y":0.24},{"s":"fes14b_unstruct_sla - fes14b_struct_sla","x":50.6,"y":0.26},{"s":"fes14b_unstruct_sla - fes14b_struct_sla","x":52.6,"y":0.22},{"s":"fes14b_unstruct_sla - fes14b_struct_sla","x":54.5,"y":0.24},{"s":"fes14b_unstruct_sla - fes14b_struct_sla","x":57.9,"y":0.24},{"s":"fes14b_unstruct_sla - fes14b_struct_sla","x":60.5,"y":0.18},{"s":"fes14b_unstruct_sla - fes14b_struct_sla","x":62.7,"y":0.22},{"s":"fes14b_unstruct_sla - fes14b_struct_sla","x":67.5,"y":0.24},{"s":"fes14b_unstruct_sla - fes14b_struct_sla","x":70.1,"y":0.22},{"s":"fes14b_unstruct_sla - fes14b_struct_sla","x":72.3,"y":0.18},{"s":"fes14b_unstruct_sla - fes14b_struct_sla","x":76.1,"y":0.18},{"s":"fes14b_unstruct_sla - fes14b_struct_sla","x":80,"y":0.15},
{"s":"fes14b_unstruct_reg_sla - fes14b_struct_sla","x":0.1,"y":0.13},{"s":"fes14b_unstruct_reg_sla - fes14b_struct_sla","x":0.29,"y":0.85},{"s":"fes14b_unstruct_reg_sla - fes14b_struct_sla","x":0.58,"y":1.77},{"s":"fes14b_unstruct_reg_sla - fes14b_struct_sla","x":0.91,"y":1.36},{"s":"fes14b_unstruct_reg_sla - fes14b_struct_sla","x":1.39,"y":1.67},{"s":"fes14b_unstruct_reg_sla - fes14b_struct_sla","x":1.87,"y":2.44},{"s":"fes14b_unstruct_reg_sla - fes14b_struct_sla","x":2.35,"y":3.11},{"s":"fes14b_unstruct_reg_sla - fes14b_struct_sla","x":2.69,"y":2.8},{"s":"fes14b_unstruct_reg_sla - fes14b_struct_sla","x":3.08,"y":2.34},{"s":"fes14b_unstruct_reg_sla - fes14b_struct_sla","x":3.56,"y":2.08},{"s":"fes14b_unstruct_reg_sla - fes14b_struct_sla","x":4.04,"y":2.13},{"s":"fes14b_unstruct_reg_sla - fes14b_struct_sla","x":4.52,"y":1.9},{"s":"fes14b_unstruct_reg_sla - fes14b_struct_sla","x":5.0,"y":2.95},{"s":"fes14b_unstruct_reg_sla - fes14b_struct_sla","x":5.24,"y":4.05},{"s":"fes14b_unstruct_reg_sla - fes14b_struct_sla","x":5.57,"y":3.11},{"s":"fes14b_unstruct_reg_sla - fes14b_struct_sla","x":5.96,"y":2.18},{"s":"fes14b_unstruct_reg_sla - fes14b_struct_sla","x":6.44,"y":1.52},{"s":"fes14b_unstruct_reg_sla - fes14b_struct_sla","x":6.92,"y":1.46},{"s":"fes14b_unstruct_reg_sla - fes14b_struct_sla","x":7.4,"y":1.52},{"s":"fes14b_unstruct_reg_sla - fes14b_struct_sla","x":7.88,"y":1.26},{"s":"fes14b_unstruct_reg_sla - fes14b_struct_sla","x":8.36,"y":1.21},{"s":"fes14b_unstruct_reg_sla - fes14b_struct_sla","x":8.84,"y":1.26},{"s":"fes14b_unstruct_reg_sla - fes14b_struct_sla","x":9.32,"y":1.16},{"s":"fes14b_unstruct_reg_sla - fes14b_struct_sla","x":10.04,"y":1.31},{"s":"fes14b_unstruct_reg_sla - fes14b_struct_sla","x":10.52,"y":1.11},{"s":"fes14b_unstruct_reg_sla - fes14b_struct_sla","x":11.24,"y":0.9},{"s":"fes14b_unstruct_reg_sla - fes14b_struct_sla","x":12.21,"y":0.8},{"s":"fes14b_unstruct_reg_sla - fes14b_struct_sla","x":13.17,"y":0.9},{"s":"fes14b_unstruct_reg_sla - fes14b_struct_sla","x":14.13,"y":0.85},{"s":"fes14b_unstruct_reg_sla - fes14b_struct_sla","x":14.85,"y":0.8},{"s":"fes14b_unstruct_reg_sla - fes14b_struct_sla","x":15.18,"y":1.35},{"s":"fes14b_unstruct_reg_sla - fes14b_struct_sla","x":15.81,"y":0.85},{"s":"fes14b_unstruct_reg_sla - fes14b_struct_sla","x":16.77,"y":0.95},{"s":"fes14b_unstruct_reg_sla - fes14b_struct_sla","x":17.73,"y":0.85},{"s":"fes14b_unstruct_reg_sla - fes14b_struct_sla","x":18.45,"y":0.75},{"s":"fes14b_unstruct_reg_sla - fes14b_struct_sla","x":19.41,"y":0.7},{"s":"fes14b_unstruct_reg_sla - fes14b_struct_sla","x":20.37,"y":0.75},{"s":"fes14b_unstruct_reg_sla - fes14b_struct_sla","x":21.34,"y":0.65},{"s":"fes14b_unstruct_reg_sla - fes14b_struct_sla","x":22.06,"y":0.75},{"s":"fes14b_unstruct_reg_sla - fes14b_struct_sla","x":22.78,"y":0.65},{"s":"fes14b_unstruct_reg_sla - fes14b_struct_sla","x":23.74,"y":0.6},{"s":"fes14b_unstruct_reg_sla - fes14b_struct_sla","x":25.18,"y":0.56},{"s":"fes14b_unstruct_reg_sla - fes14b_struct_sla","x":27.6,"y":0.56},{"s":"fes14b_unstruct_reg_sla - fes14b_struct_sla","x":30.1,"y":0.54},{"s":"fes14b_unstruct_reg_sla - fes14b_struct_sla","x":32.9,"y":0.54},{"s":"fes14b_unstruct_reg_sla - fes14b_struct_sla","x":35.3,"y":0.56},{"s":"fes14b_unstruct_reg_sla - fes14b_struct_sla","x":37.7,"y":0.65},{"s":"fes14b_unstruct_reg_sla - fes14b_struct_sla","x":39.1,"y":0.54},{"s":"fes14b_unstruct_reg_sla - fes14b_struct_sla","x":40.1,"y":0.54},{"s":"fes14b_unstruct_reg_sla - fes14b_struct_sla","x":42.5,"y":0.52},{"s":"fes14b_unstruct_reg_sla - fes14b_struct_sla","x":43.9,"y":0.82},{"s":"fes14b_unstruct_reg_sla - fes14b_struct_sla","x":44.6,"y":0.87},{"s":"fes14b_unstruct_reg_sla - fes14b_struct_sla","x":45.8,"y":0.65},{"s":"fes14b_unstruct_reg_sla - fes14b_struct_sla","x":47.3,"y":0.49},{"s":"fes14b_unstruct_reg_sla - fes14b_struct_sla","x":48.7,"y":0.46},{"s":"fes14b_unstruct_reg_sla - fes14b_struct_sla","x":50.6,"y":0.44},{"s":"fes14b_unstruct_reg_sla - fes14b_struct_sla","x":52.6,"y":0.42},{"s":"fes14b_unstruct_reg_sla - fes14b_struct_sla","x":54.5,"y":0.42},{"s":"fes14b_unstruct_reg_sla - fes14b_struct_sla","x":56,"y":0.44},{"s":"fes14b_unstruct_reg_sla - fes14b_struct_sla","x":58.8,"y":0.44},{"s":"fes14b_unstruct_reg_sla - fes14b_struct_sla","x":60.5,"y":0.36},{"s":"fes14b_unstruct_reg_sla - fes14b_struct_sla","x":61.5,"y":0.44},{"s":"fes14b_unstruct_reg_sla - fes14b_struct_sla","x":62.4,"y":0.39},{"s":"fes14b_unstruct_reg_sla - fes14b_struct_sla","x":63.6,"y":0.44},{"s":"fes14b_unstruct_reg_sla - fes14b_struct_sla","x":66.5,"y":0.42},{"s":"fes14b_unstruct_reg_sla - fes14b_struct_sla","x":68.9,"y":0.39},{"s":"fes14b_unstruct_reg_sla - fes14b_struct_sla","x":70.3,"y":0.36},{"s":"fes14b_unstruct_reg_sla - fes14b_struct_sla","x":72.8,"y":0.29},{"s":"fes14b_unstruct_reg_sla - fes14b_struct_sla","x":75.2,"y":0.32},{"s":"fes14b_unstruct_reg_sla - fes14b_struct_sla","x":77.1,"y":0.29},{"s":"fes14b_unstruct_reg_sla - fes14b_struct_sla","x":78.5,"y":0.34},{"s":"fes14b_unstruct_reg_sla - fes14b_struct_sla","x":80,"y":0.32},
{"s":"EOT20_sla - fes14b_struct_sla","x":0.1,"y":0.3},{"s":"EOT20_sla - fes14b_struct_sla","x":0.43,"y":1.8},{"s":"EOT20_sla - fes14b_struct_sla","x":0.91,"y":2.2},{"s":"EOT20_sla - fes14b_struct_sla","x":1.39,"y":1.65},{"s":"EOT20_sla - fes14b_struct_sla","x":1.87,"y":2.06},{"s":"EOT20_sla - fes14b_struct_sla","x":2.35,"y":3.29},{"s":"EOT20_sla - fes14b_struct_sla","x":2.59,"y":3.34},{"s":"EOT20_sla - fes14b_struct_sla","x":3.08,"y":3.14},{"s":"EOT20_sla - fes14b_struct_sla","x":3.56,"y":3.06},{"s":"EOT20_sla - fes14b_struct_sla","x":4.04,"y":3.19},{"s":"EOT20_sla - fes14b_struct_sla","x":4.52,"y":3.19},{"s":"EOT20_sla - fes14b_struct_sla","x":5.0,"y":3.6},{"s":"EOT20_sla - fes14b_struct_sla","x":5.24,"y":4.85},{"s":"EOT20_sla - fes14b_struct_sla","x":5.72,"y":3.5},{"s":"EOT20_sla - fes14b_struct_sla","x":6.2,"y":3.09},{"s":"EOT20_sla - fes14b_struct_sla","x":6.68,"y":2.73},{"s":"EOT20_sla - fes14b_struct_sla","x":7.16,"y":2.62},{"s":"EOT20_sla - fes14b_struct_sla","x":7.88,"y":2.6},{"s":"EOT20_sla - fes14b_struct_sla","x":8.6,"y":2.5},{"s":"EOT20_sla - fes14b_struct_sla","x":9.32,"y":2.42},{"s":"EOT20_sla - fes14b_struct_sla","x":10.04,"y":2.32},{"s":"EOT20_sla - fes14b_struct_sla","x":11.0,"y":2.16},{"s":"EOT20_sla - fes14b_struct_sla","x":12.21,"y":2.01},{"s":"EOT20_sla - fes14b_struct_sla","x":13.17,"y":1.89},{"s":"EOT20_sla - fes14b_struct_sla","x":14.13,"y":1.86},{"s":"EOT20_sla - fes14b_struct_sla","x":14.85,"y":1.8},{"s":"EOT20_sla - fes14b_struct_sla","x":15.33,"y":1.89},{"s":"EOT20_sla - fes14b_struct_sla","x":15.81,"y":1.75},{"s":"EOT20_sla - fes14b_struct_sla","x":16.77,"y":1.91},{"s":"EOT20_sla - fes14b_struct_sla","x":17.73,"y":2.06},{"s":"EOT20_sla - fes14b_struct_sla","x":18.69,"y":1.93},{"s":"EOT20_sla - fes14b_struct_sla","x":19.65,"y":1.8},{"s":"EOT20_sla - fes14b_struct_sla","x":20.37,"y":1.93},{"s":"EOT20_sla - fes14b_struct_sla","x":21.34,"y":1.75},{"s":"EOT20_sla - fes14b_struct_sla","x":22.3,"y":1.7},{"s":"EOT20_sla - fes14b_struct_sla","x":23.26,"y":1.75},{"s":"EOT20_sla - fes14b_struct_sla","x":24.46,"y":1.62},{"s":"EOT20_sla - fes14b_struct_sla","x":25.66,"y":1.52},{"s":"EOT20_sla - fes14b_struct_sla","x":26.62,"y":1.41},{"s":"EOT20_sla - fes14b_struct_sla","x":28.5,"y":1.34},{"s":"EOT20_sla - fes14b_struct_sla","x":30.1,"y":1.24},{"s":"EOT20_sla - fes14b_struct_sla","x":31.4,"y":1.41},{"s":"EOT20_sla - fes14b_struct_sla","x":32.9,"y":1.34},{"s":"EOT20_sla - fes14b_struct_sla","x":34.8,"y":1.37},{"s":"EOT20_sla - fes14b_struct_sla","x":36.7,"y":1.29},{"s":"EOT20_sla - fes14b_struct_sla","x":37.7,"y":1.6},{"s":"EOT20_sla - fes14b_struct_sla","x":38.6,"y":1.34},{"s":"EOT20_sla - fes14b_struct_sla","x":40.1,"y":1.31},{"s":"EOT20_sla - fes14b_struct_sla","x":41.5,"y":1.41},{"s":"EOT20_sla - fes14b_struct_sla","x":42.5,"y":1.37},{"s":"EOT20_sla - fes14b_struct_sla","x":43.4,"y":1.62},{"s":"EOT20_sla - fes14b_struct_sla","x":44.2,"y":1.65},{"s":"EOT20_sla - fes14b_struct_sla","x":45.1,"y":1.45},{"s":"EOT20_sla - fes14b_struct_sla","x":46.3,"y":1.41},{"s":"EOT20_sla - fes14b_struct_sla","x":47.5,"y":1.34},{"s":"EOT20_sla - fes14b_struct_sla","x":48.2,"y":1.48},{"s":"EOT20_sla - fes14b_struct_sla","x":50.2,"y":1.45},{"s":"EOT20_sla - fes14b_struct_sla","x":51.6,"y":1.27},{"s":"EOT20_sla - fes14b_struct_sla","x":52.6,"y":1.19},{"s":"EOT20_sla - fes14b_struct_sla","x":54.5,"y":1.39},{"s":"EOT20_sla - fes14b_struct_sla","x":55.9,"y":1.37},{"s":"EOT20_sla - fes14b_struct_sla","x":58.8,"y":1.34},{"s":"EOT20_sla - fes14b_struct_sla","x":60.3,"y":1.24},{"s":"EOT20_sla - fes14b_struct_sla","x":61.5,"y":1.19},{"s":"EOT20_sla - fes14b_struct_sla","x":62.7,"y":1.09},{"s":"EOT20_sla - fes14b_struct_sla","x":63.6,"y":1.31},{"s":"EOT20_sla - fes14b_struct_sla","x":65.5,"y":1.29},{"s":"EOT20_sla - fes14b_struct_sla","x":67.5,"y":1.31},{"s":"EOT20_sla - fes14b_struct_sla","x":69.4,"y":1.31},{"s":"EOT20_sla - fes14b_struct_sla","x":70.1,"y":1.24},{"s":"EOT20_sla - fes14b_struct_sla","x":71.1,"y":1.14},{"s":"EOT20_sla - fes14b_struct_sla","x":72.0,"y":0.93},{"s":"EOT20_sla - fes14b_struct_sla","x":73.2,"y":0.9},{"s":"EOT20_sla - fes14b_struct_sla","x":74.7,"y":0.93},{"s":"EOT20_sla - fes14b_struct_sla","x":76.6,"y":0.93},{"s":"EOT20_sla - fes14b_struct_sla","x":78.0,"y":0.83},{"s":"EOT20_sla - fes14b_struct_sla","x":80,"y":0.76},
{"s":"fes14b_unstruct_reg_sla - fes14b_unstruct_sla","x":0.1,"y":0.13},{"s":"fes14b_unstruct_reg_sla - fes14b_unstruct_sla","x":0.29,"y":0.85},{"s":"fes14b_unstruct_reg_sla - fes14b_unstruct_sla","x":0.58,"y":1.77},{"s":"fes14b_unstruct_reg_sla - fes14b_unstruct_sla","x":0.91,"y":1.36},{"s":"fes14b_unstruct_reg_sla - fes14b_unstruct_sla","x":1.39,"y":1.67},{"s":"fes14b_unstruct_reg_sla - fes14b_unstruct_sla","x":1.87,"y":2.44},{"s":"fes14b_unstruct_reg_sla - fes14b_unstruct_sla","x":2.35,"y":3.11},{"s":"fes14b_unstruct_reg_sla - fes14b_unstruct_sla","x":2.69,"y":2.8},{"s":"fes14b_unstruct_reg_sla - fes14b_unstruct_sla","x":3.08,"y":2.34},{"s":"fes14b_unstruct_reg_sla - fes14b_unstruct_sla","x":3.56,"y":2.08},{"s":"fes14b_unstruct_reg_sla - fes14b_unstruct_sla","x":4.04,"y":2.13},{"s":"fes14b_unstruct_reg_sla - fes14b_unstruct_sla","x":4.52,"y":1.9},{"s":"fes14b_unstruct_reg_sla - fes14b_unstruct_sla","x":5.0,"y":2.95},{"s":"fes14b_unstruct_reg_sla - fes14b_unstruct_sla","x":5.24,"y":3.45},{"s":"fes14b_unstruct_reg_sla - fes14b_unstruct_sla","x":5.57,"y":3.11},{"s":"fes14b_unstruct_reg_sla - fes14b_unstruct_sla","x":5.96,"y":2.18},{"s":"fes14b_unstruct_reg_sla - fes14b_unstruct_sla","x":6.44,"y":1.52},{"s":"fes14b_unstruct_reg_sla - fes14b_unstruct_sla","x":6.92,"y":1.46},{"s":"fes14b_unstruct_reg_sla - fes14b_unstruct_sla","x":7.4,"y":1.52},{"s":"fes14b_unstruct_reg_sla - fes14b_unstruct_sla","x":7.88,"y":1.26},{"s":"fes14b_unstruct_reg_sla - fes14b_unstruct_sla","x":8.36,"y":1.21},{"s":"fes14b_unstruct_reg_sla - fes14b_unstruct_sla","x":8.84,"y":1.26},{"s":"fes14b_unstruct_reg_sla - fes14b_unstruct_sla","x":9.32,"y":1.16},{"s":"fes14b_unstruct_reg_sla - fes14b_unstruct_sla","x":10.04,"y":1.36},{"s":"fes14b_unstruct_reg_sla - fes14b_unstruct_sla","x":10.52,"y":1.11},{"s":"fes14b_unstruct_reg_sla - fes14b_unstruct_sla","x":11.24,"y":0.9},{"s":"fes14b_unstruct_reg_sla - fes14b_unstruct_sla","x":12.21,"y":0.8},{"s":"fes14b_unstruct_reg_sla - fes14b_unstruct_sla","x":13.17,"y":0.9},{"s":"fes14b_unstruct_reg_sla - fes14b_unstruct_sla","x":14.13,"y":0.85},{"s":"fes14b_unstruct_reg_sla - fes14b_unstruct_sla","x":14.85,"y":0.8},{"s":"fes14b_unstruct_reg_sla - fes14b_unstruct_sla","x":15.18,"y":1.05},{"s":"fes14b_unstruct_reg_sla - fes14b_unstruct_sla","x":15.81,"y":0.85},{"s":"fes14b_unstruct_reg_sla - fes14b_unstruct_sla","x":16.77,"y":0.95},{"s":"fes14b_unstruct_reg_sla - fes14b_unstruct_sla","x":17.73,"y":0.85},{"s":"fes14b_unstruct_reg_sla - fes14b_unstruct_sla","x":18.45,"y":0.75},{"s":"fes14b_unstruct_reg_sla - fes14b_unstruct_sla","x":19.41,"y":0.7},{"s":"fes14b_unstruct_reg_sla - fes14b_unstruct_sla","x":20.37,"y":0.75},{"s":"fes14b_unstruct_reg_sla - fes14b_unstruct_sla","x":21.34,"y":0.65},{"s":"fes14b_unstruct_reg_sla - fes14b_unstruct_sla","x":22.06,"y":0.75},{"s":"fes14b_unstruct_reg_sla - fes14b_unstruct_sla","x":22.78,"y":0.65},{"s":"fes14b_unstruct_reg_sla - fes14b_unstruct_sla","x":23.74,"y":0.6},{"s":"fes14b_unstruct_reg_sla - fes14b_unstruct_sla","x":25.18,"y":0.56},{"s":"fes14b_unstruct_reg_sla - fes14b_unstruct_sla","x":27.6,"y":0.56},{"s":"fes14b_unstruct_reg_sla - fes14b_unstruct_sla","x":30.1,"y":0.54},{"s":"fes14b_unstruct_reg_sla - fes14b_unstruct_sla","x":32.9,"y":0.54},{"s":"fes14b_unstruct_reg_sla - fes14b_unstruct_sla","x":35.3,"y":0.56},{"s":"fes14b_unstruct_reg_sla - fes14b_unstruct_sla","x":37.7,"y":0.65},{"s":"fes14b_unstruct_reg_sla - fes14b_unstruct_sla","x":39.1,"y":0.54},{"s":"fes14b_unstruct_reg_sla - fes14b_unstruct_sla","x":40.1,"y":0.54},{"s":"fes14b_unstruct_reg_sla - fes14b_unstruct_sla","x":42.5,"y":0.52},{"s":"fes14b_unstruct_reg_sla - fes14b_unstruct_sla","x":43.9,"y":0.78},{"s":"fes14b_unstruct_reg_sla - fes14b_unstruct_sla","x":44.6,"y":0.8},{"s":"fes14b_unstruct_reg_sla - fes14b_unstruct_sla","x":45.8,"y":0.65},{"s":"fes14b_unstruct_reg_sla - fes14b_unstruct_sla","x":47.3,"y":0.49},{"s":"fes14b_unstruct_reg_sla - fes14b_unstruct_sla","x":48.7,"y":0.46},{"s":"fes14b_unstruct_reg_sla - fes14b_unstruct_sla","x":50.6,"y":0.44},{"s":"fes14b_unstruct_reg_sla - fes14b_unstruct_sla","x":52.6,"y":0.42},{"s":"fes14b_unstruct_reg_sla - fes14b_unstruct_sla","x":54.5,"y":0.42},{"s":"fes14b_unstruct_reg_sla - fes14b_unstruct_sla","x":56,"y":0.44},{"s":"fes14b_unstruct_reg_sla - fes14b_unstruct_sla","x":58.8,"y":0.44},{"s":"fes14b_unstruct_reg_sla - fes14b_unstruct_sla","x":60.5,"y":0.36},{"s":"fes14b_unstruct_reg_sla - fes14b_unstruct_sla","x":61.5,"y":0.44},{"s":"fes14b_unstruct_reg_sla - fes14b_unstruct_sla","x":62.4,"y":0.39},{"s":"fes14b_unstruct_reg_sla - fes14b_unstruct_sla","x":63.6,"y":0.44},{"s":"fes14b_unstruct_reg_sla - fes14b_unstruct_sla","x":66.5,"y":0.42},{"s":"fes14b_unstruct_reg_sla - fes14b_unstruct_sla","x":68.9,"y":0.39},{"s":"fes14b_unstruct_reg_sla - fes14b_unstruct_sla","x":70.3,"y":0.36},{"s":"fes14b_unstruct_reg_sla - fes14b_unstruct_sla","x":72.8,"y":0.31},{"s":"fes14b_unstruct_reg_sla - fes14b_unstruct_sla","x":75.2,"y":0.34},{"s":"fes14b_unstruct_reg_sla - fes14b_unstruct_sla","x":77.1,"y":0.31},{"s":"fes14b_unstruct_reg_sla - fes14b_unstruct_sla","x":78.5,"y":0.36},{"s":"fes14b_unstruct_reg_sla - fes14b_unstruct_sla","x":80,"y":0.34},
{"s":"EOT20_sla - fes14b_unstruct_sla","x":0.1,"y":0.3},{"s":"EOT20_sla - fes14b_unstruct_sla","x":0.43,"y":1.77},{"s":"EOT20_sla - fes14b_unstruct_sla","x":0.91,"y":2.18},{"s":"EOT20_sla - fes14b_unstruct_sla","x":1.39,"y":1.62},{"s":"EOT20_sla - fes14b_unstruct_sla","x":1.87,"y":2.03},{"s":"EOT20_sla - fes14b_unstruct_sla","x":2.35,"y":3.26},{"s":"EOT20_sla - fes14b_unstruct_sla","x":2.59,"y":3.31},{"s":"EOT20_sla - fes14b_unstruct_sla","x":3.08,"y":3.11},{"s":"EOT20_sla - fes14b_unstruct_sla","x":3.56,"y":3.03},{"s":"EOT20_sla - fes14b_unstruct_sla","x":4.04,"y":3.16},{"s":"EOT20_sla - fes14b_unstruct_sla","x":4.52,"y":3.16},{"s":"EOT20_sla - fes14b_unstruct_sla","x":5.0,"y":3.42},{"s":"EOT20_sla - fes14b_unstruct_sla","x":5.24,"y":3.88},{"s":"EOT20_sla - fes14b_unstruct_sla","x":5.72,"y":3.47},{"s":"EOT20_sla - fes14b_unstruct_sla","x":6.2,"y":3.06},{"s":"EOT20_sla - fes14b_unstruct_sla","x":6.68,"y":2.7},{"s":"EOT20_sla - fes14b_unstruct_sla","x":7.16,"y":2.59},{"s":"EOT20_sla - fes14b_unstruct_sla","x":7.88,"y":2.57},{"s":"EOT20_sla - fes14b_unstruct_sla","x":8.6,"y":2.47},{"s":"EOT20_sla - fes14b_unstruct_sla","x":9.32,"y":2.39},{"s":"EOT20_sla - fes14b_unstruct_sla","x":10.04,"y":2.29},{"s":"EOT20_sla - fes14b_unstruct_sla","x":11.0,"y":2.13},{"s":"EOT20_sla - fes14b_unstruct_sla","x":12.21,"y":1.98},{"s":"EOT20_sla - fes14b_unstruct_sla","x":13.17,"y":1.86},{"s":"EOT20_sla - fes14b_unstruct_sla","x":14.13,"y":1.83},{"s":"EOT20_sla - fes14b_unstruct_sla","x":14.85,"y":1.77},{"s":"EOT20_sla - fes14b_unstruct_sla","x":15.33,"y":1.86},{"s":"EOT20_sla - fes14b_unstruct_sla","x":15.81,"y":1.72},{"s":"EOT20_sla - fes14b_unstruct_sla","x":16.77,"y":1.88},{"s":"EOT20_sla - fes14b_unstruct_sla","x":17.73,"y":2.03},{"s":"EOT20_sla - fes14b_unstruct_sla","x":18.69,"y":1.9},{"s":"EOT20_sla - fes14b_unstruct_sla","x":19.65,"y":1.77},{"s":"EOT20_sla - fes14b_unstruct_sla","x":20.37,"y":1.9},{"s":"EOT20_sla - fes14b_unstruct_sla","x":21.34,"y":1.72},{"s":"EOT20_sla - fes14b_unstruct_sla","x":22.3,"y":1.67},{"s":"EOT20_sla - fes14b_unstruct_sla","x":23.26,"y":1.72},{"s":"EOT20_sla - fes14b_unstruct_sla","x":24.46,"y":1.59},{"s":"EOT20_sla - fes14b_unstruct_sla","x":25.66,"y":1.49},{"s":"EOT20_sla - fes14b_unstruct_sla","x":26.62,"y":1.38},{"s":"EOT20_sla - fes14b_unstruct_sla","x":28.5,"y":1.31},{"s":"EOT20_sla - fes14b_unstruct_sla","x":30.1,"y":1.21},{"s":"EOT20_sla - fes14b_unstruct_sla","x":31.4,"y":1.38},{"s":"EOT20_sla - fes14b_unstruct_sla","x":32.9,"y":1.31},{"s":"EOT20_sla - fes14b_unstruct_sla","x":34.8,"y":1.34},{"s":"EOT20_sla - fes14b_unstruct_sla","x":36.7,"y":1.26},{"s":"EOT20_sla - fes14b_unstruct_sla","x":37.7,"y":1.57},{"s":"EOT20_sla - fes14b_unstruct_sla","x":38.6,"y":1.31},{"s":"EOT20_sla - fes14b_unstruct_sla","x":40.1,"y":1.28},{"s":"EOT20_sla - fes14b_unstruct_sla","x":41.5,"y":1.38},{"s":"EOT20_sla - fes14b_unstruct_sla","x":42.5,"y":1.34},{"s":"EOT20_sla - fes14b_unstruct_sla","x":43.4,"y":1.59},{"s":"EOT20_sla - fes14b_unstruct_sla","x":44.2,"y":1.62},{"s":"EOT20_sla - fes14b_unstruct_sla","x":45.1,"y":1.42},{"s":"EOT20_sla - fes14b_unstruct_sla","x":46.3,"y":1.38},{"s":"EOT20_sla - fes14b_unstruct_sla","x":47.5,"y":1.31},{"s":"EOT20_sla - fes14b_unstruct_sla","x":48.2,"y":1.45},{"s":"EOT20_sla - fes14b_unstruct_sla","x":50.2,"y":1.42},{"s":"EOT20_sla - fes14b_unstruct_sla","x":51.6,"y":1.24},{"s":"EOT20_sla - fes14b_unstruct_sla","x":52.6,"y":1.16},{"s":"EOT20_sla - fes14b_unstruct_sla","x":54.5,"y":1.36},{"s":"EOT20_sla - fes14b_unstruct_sla","x":55.9,"y":1.34},{"s":"EOT20_sla - fes14b_unstruct_sla","x":58.8,"y":1.31},{"s":"EOT20_sla - fes14b_unstruct_sla","x":60.3,"y":1.21},{"s":"EOT20_sla - fes14b_unstruct_sla","x":61.5,"y":1.16},{"s":"EOT20_sla - fes14b_unstruct_sla","x":62.7,"y":1.06},{"s":"EOT20_sla - fes14b_unstruct_sla","x":63.6,"y":1.28},{"s":"EOT20_sla - fes14b_unstruct_sla","x":65.5,"y":1.26},{"s":"EOT20_sla - fes14b_unstruct_sla","x":67.5,"y":1.28},{"s":"EOT20_sla - fes14b_unstruct_sla","x":69.4,"y":1.28},{"s":"EOT20_sla - fes14b_unstruct_sla","x":70.1,"y":1.21},{"s":"EOT20_sla - fes14b_unstruct_sla","x":71.1,"y":1.11},{"s":"EOT20_sla - fes14b_unstruct_sla","x":72.0,"y":0.9},{"s":"EOT20_sla - fes14b_unstruct_sla","x":73.2,"y":0.87},{"s":"EOT20_sla - fes14b_unstruct_sla","x":74.7,"y":0.9},{"s":"EOT20_sla - fes14b_unstruct_sla","x":76.6,"y":0.9},{"s":"EOT20_sla - fes14b_unstruct_sla","x":78.0,"y":0.8},{"s":"EOT20_sla - fes14b_unstruct_sla","x":80,"y":0.73},
{"s":"EOT20_sla - fes14b_unstruct_reg_sla","x":0.05,"y":4.03},{"s":"EOT20_sla - fes14b_unstruct_reg_sla","x":0.19,"y":2.08},{"s":"EOT20_sla - fes14b_unstruct_reg_sla","x":0.43,"y":1.16},{"s":"EOT20_sla - fes14b_unstruct_reg_sla","x":0.58,"y":1.77},{"s":"EOT20_sla - fes14b_unstruct_reg_sla","x":0.77,"y":2.54},{"s":"EOT20_sla - fes14b_unstruct_reg_sla","x":0.96,"y":1.88},{"s":"EOT20_sla - fes14b_unstruct_reg_sla","x":1.25,"y":1.98},{"s":"EOT20_sla - fes14b_unstruct_reg_sla","x":1.54,"y":2.08},{"s":"EOT20_sla - fes14b_unstruct_reg_sla","x":1.87,"y":2.7},{"s":"EOT20_sla - fes14b_unstruct_reg_sla","x":2.35,"y":3.47},{"s":"EOT20_sla - fes14b_unstruct_reg_sla","x":2.83,"y":3.57},{"s":"EOT20_sla - fes14b_unstruct_reg_sla","x":3.31,"y":3.42},{"s":"EOT20_sla - fes14b_unstruct_reg_sla","x":3.8,"y":3.52},{"s":"EOT20_sla - fes14b_unstruct_reg_sla","x":4.28,"y":3.33},{"s":"EOT20_sla - fes14b_unstruct_reg_sla","x":4.76,"y":3.57},{"s":"EOT20_sla - fes14b_unstruct_reg_sla","x":5.24,"y":3.62},{"s":"EOT20_sla - fes14b_unstruct_reg_sla","x":5.72,"y":3.6},{"s":"EOT20_sla - fes14b_unstruct_reg_sla","x":6.2,"y":3.5},{"s":"EOT20_sla - fes14b_unstruct_reg_sla","x":6.68,"y":3.31},{"s":"EOT20_sla - fes14b_unstruct_reg_sla","x":7.16,"y":3.19},{"s":"EOT20_sla - fes14b_unstruct_reg_sla","x":7.64,"y":3.21},{"s":"EOT20_sla - fes14b_unstruct_reg_sla","x":8.12,"y":3.06},{"s":"EOT20_sla - fes14b_unstruct_reg_sla","x":8.84,"y":2.98},{"s":"EOT20_sla - fes14b_unstruct_reg_sla","x":9.32,"y":2.85},{"s":"EOT20_sla - fes14b_unstruct_reg_sla","x":10.04,"y":2.49},{"s":"EOT20_sla - fes14b_unstruct_reg_sla","x":10.76,"y":2.18},{"s":"EOT20_sla - fes14b_unstruct_reg_sla","x":11.73,"y":2.1},{"s":"EOT20_sla - fes14b_unstruct_reg_sla","x":12.69,"y":2.03},{"s":"EOT20_sla - fes14b_unstruct_reg_sla","x":13.65,"y":2.03},{"s":"EOT20_sla - fes14b_unstruct_reg_sla","x":14.61,"y":2.08},{"s":"EOT20_sla - fes14b_unstruct_reg_sla","x":15.18,"y":2.39},{"s":"EOT20_sla - fes14b_unstruct_reg_sla","x":15.81,"y":2.08},{"s":"EOT20_sla - fes14b_unstruct_reg_sla","x":16.77,"y":2.41},{"s":"EOT20_sla - fes14b_unstruct_reg_sla","x":17.49,"y":2.41},{"s":"EOT20_sla - fes14b_unstruct_reg_sla","x":18.45,"y":2.29},{"s":"EOT20_sla - fes14b_unstruct_reg_sla","x":19.41,"y":2.16},{"s":"EOT20_sla - fes14b_unstruct_reg_sla","x":20.37,"y":2.18},{"s":"EOT20_sla - fes14b_unstruct_reg_sla","x":21.34,"y":1.98},{"s":"EOT20_sla - fes14b_unstruct_reg_sla","x":22.3,"y":1.86},{"s":"EOT20_sla - fes14b_unstruct_reg_sla","x":23.02,"y":1.9},{"s":"EOT20_sla - fes14b_unstruct_reg_sla","x":24.22,"y":1.77},{"s":"EOT20_sla - fes14b_unstruct_reg_sla","x":25.18,"y":1.67},{"s":"EOT20_sla - fes14b_unstruct_reg_sla","x":26.38,"y":1.55},{"s":"EOT20_sla - fes14b_unstruct_reg_sla","x":27.1,"y":1.55},{"s":"EOT20_sla - fes14b_unstruct_reg_sla","x":28.5,"y":1.52},{"s":"EOT20_sla - fes14b_unstruct_reg_sla","x":29.5,"y":1.49},{"s":"EOT20_sla - fes14b_unstruct_reg_sla","x":30.1,"y":1.47},{"s":"EOT20_sla - fes14b_unstruct_reg_sla","x":30.7,"y":1.57},{"s":"EOT20_sla - fes14b_unstruct_reg_sla","x":31.7,"y":1.62},{"s":"EOT20_sla - fes14b_unstruct_reg_sla","x":32.6,"y":1.55},{"s":"EOT20_sla - fes14b_unstruct_reg_sla","x":33.8,"y":1.59},{"s":"EOT20_sla - fes14b_unstruct_reg_sla","x":35.0,"y":1.62},{"s":"EOT20_sla - fes14b_unstruct_reg_sla","x":36.0,"y":1.62},{"s":"EOT20_sla - fes14b_unstruct_reg_sla","x":37.0,"y":1.57},{"s":"EOT20_sla - fes14b_unstruct_reg_sla","x":37.7,"y":1.93},{"s":"EOT20_sla - fes14b_unstruct_reg_sla","x":38.3,"y":1.62},{"s":"EOT20_sla - fes14b_unstruct_reg_sla","x":39.1,"y":1.52},{"s":"EOT20_sla - fes14b_unstruct_reg_sla","x":40.1,"y":1.57},{"s":"EOT20_sla - fes14b_unstruct_reg_sla","x":41.0,"y":1.62},{"s":"EOT20_sla - fes14b_unstruct_reg_sla","x":41.8,"y":1.67},{"s":"EOT20_sla - fes14b_unstruct_reg_sla","x":42.5,"y":1.62},{"s":"EOT20_sla - fes14b_unstruct_reg_sla","x":43.2,"y":2.08},{"s":"EOT20_sla - fes14b_unstruct_reg_sla","x":44.2,"y":2.13},{"s":"EOT20_sla - fes14b_unstruct_reg_sla","x":45.1,"y":1.83},{"s":"EOT20_sla - fes14b_unstruct_reg_sla","x":46.3,"y":1.77},{"s":"EOT20_sla - fes14b_unstruct_reg_sla","x":47.3,"y":1.62},{"s":"EOT20_sla - fes14b_unstruct_reg_sla","x":48.0,"y":1.75},{"s":"EOT20_sla - fes14b_unstruct_reg_sla","x":48.7,"y":1.69},{"s":"EOT20_sla - fes14b_unstruct_reg_sla","x":50.2,"y":1.67},{"s":"EOT20_sla - fes14b_unstruct_reg_sla","x":51.4,"y":1.47},{"s":"EOT20_sla - fes14b_unstruct_reg_sla","x":52.6,"y":1.34},{"s":"EOT20_sla - fes14b_unstruct_reg_sla","x":53.5,"y":1.52},{"s":"EOT20_sla - fes14b_unstruct_reg_sla","x":54.5,"y":1.62},{"s":"EOT20_sla - fes14b_unstruct_reg_sla","x":55.9,"y":1.52},{"s":"EOT20_sla - fes14b_unstruct_reg_sla","x":57.4,"y":1.47},{"s":"EOT20_sla - fes14b_unstruct_reg_sla","x":58.8,"y":1.52},{"s":"EOT20_sla - fes14b_unstruct_reg_sla","x":59.8,"y":1.49},{"s":"EOT20_sla - fes14b_unstruct_reg_sla","x":60.5,"y":1.34},{"s":"EOT20_sla - fes14b_unstruct_reg_sla","x":61.7,"y":1.36},{"s":"EOT20_sla - fes14b_unstruct_reg_sla","x":62.7,"y":1.18},{"s":"EOT20_sla - fes14b_unstruct_reg_sla","x":63.6,"y":1.47},{"s":"EOT20_sla - fes14b_unstruct_reg_sla","x":65.1,"y":1.47},{"s":"EOT20_sla - fes14b_unstruct_reg_sla","x":66.0,"y":1.42},{"s":"EOT20_sla - fes14b_unstruct_reg_sla","x":67.2,"y":1.52},{"s":"EOT20_sla - fes14b_unstruct_reg_sla","x":68.9,"y":1.52},{"s":"EOT20_sla - fes14b_unstruct_reg_sla","x":70.1,"y":1.42},{"s":"EOT20_sla - fes14b_unstruct_reg_sla","x":71.1,"y":1.26},{"s":"EOT20_sla - fes14b_unstruct_reg_sla","x":72.0,"y":1.0},{"s":"EOT20_sla - fes14b_unstruct_reg_sla","x":73.2,"y":0.95},{"s":"EOT20_sla - fes14b_unstruct_reg_sla","x":74.2,"y":1.0},{"s":"EOT20_sla - fes14b_unstruct_reg_sla","x":75.2,"y":0.97},{"s":"EOT20_sla - fes14b_unstruct_reg_sla","x":76.6,"y":0.97},{"s":"EOT20_sla - fes14b_unstruct_reg_sla","x":77.6,"y":0.93},{"s":"EOT20_sla - fes14b_unstruct_reg_sla","x":78.5,"y":0.8},{"s":"EOT20_sla - fes14b_unstruct_reg_sla","x":80,"y":0.77}
]
},
"vconcat":[
{"width":555,"height":162,"data":{"name":"A"},
 "title":{"text":"(a)","orient":"top","anchor":"end","frame":"group","align":"left","baseline":"top","offset":0,"dx":10,"dy":31,"font":"DejaVu Sans","fontSize":18,"fontWeight":"normal","color":"#000"},
 "mark":{"type":"line","strokeWidth":3,"opacity":0.55,"clip":true},
 "encoding":{
  "x":{"field":"x","type":"quantitative","scale":{"domain":[20,195],"nice":false,"zero":false},"axis":{"values":[20,40,60,80,100,120,140,160,180],"title":null}},
  "y":{"field":"y","type":"quantitative","scale":{"domain":[10,17],"nice":false,"zero":false},"axis":{"values":[10,12,14,16],"title":"SD of SLA (cm)","titlePadding":8}},
  "color":{"field":"s","type":"nominal","scale":{"domain":["fes14b_struct","fes14b_unstruct","fes14b_unstruct_reg","EOT20"],"range":["#1f77b4","#ff7f0e","#adadad","#525252"]},"legend":null}
 }},
{"width":555,"height":162,"data":{"name":"B"},
 "title":{"text":"(b)","orient":"top","anchor":"end","frame":"group","align":"left","baseline":"top","offset":0,"dx":10,"dy":36,"font":"DejaVu Sans","fontSize":18,"fontWeight":"normal","color":"#000"},
 "mark":{"type":"line","strokeWidth":4,"opacity":0.55,"clip":true},
 "encoding":{
  "x":{"field":"x","type":"quantitative","scale":{"domain":[0,20],"nice":false,"zero":false},"axis":{"values":[0,2.5,5,7.5,10,12.5,15,17.5,20],"format":".1f","title":null}},
  "y":{"field":"y","type":"quantitative","scale":{"domain":[12.1,70.3],"nice":false,"zero":false},"axis":{"values":[20,40,60],"title":"SD of SLA (cm)","titlePadding":8}},
  "color":{"field":"s","type":"nominal","scale":{"domain":["fes14b_struct","fes14b_unstruct","fes14b_unstruct_reg","EOT20"],"range":["#1f77b4","#ff7f0e","#adadad","#525252"]},
   "legend":{"orient":"top-right","offset":8,"title":null,"labelFont":"DejaVu Sans","labelFontSize":15,"labelColor":"#000","symbolType":"M-2.43,0H2.43","symbolStrokeWidth":4,"symbolSize":196,"symbolOffset":10,"symbolOpacity":0.55,"strokeColor":"#d0d0d0","fillColor":"#ffffff","padding":6,"cornerRadius":3,"rowPadding":4,"labelOffset":18}}
 }},
{"width":555,"height":162,"data":{"name":"C"},
 "title":{"text":"(c)","orient":"top","anchor":"end","frame":"group","align":"left","baseline":"top","offset":0,"dx":10,"dy":23,"font":"DejaVu Sans","fontSize":18,"fontWeight":"normal","color":"#000"},
 "mark":{"type":"line","strokeWidth":3.5,"opacity":0.55,"clip":true},
 "encoding":{
  "x":{"field":"x","type":"quantitative","scale":{"domain":[0,80],"nice":false,"zero":false},"axis":{"values":[0,10,20,30,40,50,60,70,80],"title":"Distance to the coast (km)","titlePadding":4}},
  "y":{"field":"y","type":"quantitative","scale":{"domain":[0,5],"nice":false,"zero":false},"axis":{"values":[0,2,4],"title":"RMS diff. (cm)","titlePadding":8}},
  "color":{"field":"s","type":"nominal","scale":{"domain":["fes14b_unstruct_sla - fes14b_struct_sla","fes14b_unstruct_reg_sla - fes14b_struct_sla","EOT20_sla - fes14b_struct_sla","fes14b_unstruct_reg_sla - fes14b_unstruct_sla","EOT20_sla - fes14b_unstruct_sla","EOT20_sla - fes14b_unstruct_reg_sla"],"range":["#1f77b4","#ff7f0e","#adadad","#525252","#eead6e","#a020f0"]},
   "legend":{"orient":"none","legendX":-20,"legendY":226,"columns":2,"columnPadding":-7,"title":null,"labelFont":"DejaVu Sans","labelFontSize":11,"labelColor":"#000","symbolType":"M-2.6,0H2.6","symbolStrokeWidth":4,"symbolSize":100,"symbolOffset":8,"symbolOpacity":0.55,"strokeColor":"#d0d0d0","fillColor":"#ffffff","padding":3,"cornerRadius":3,"rowPadding":3,"labelOffset":23,"labelLimit":400}}
 }}
]
}
